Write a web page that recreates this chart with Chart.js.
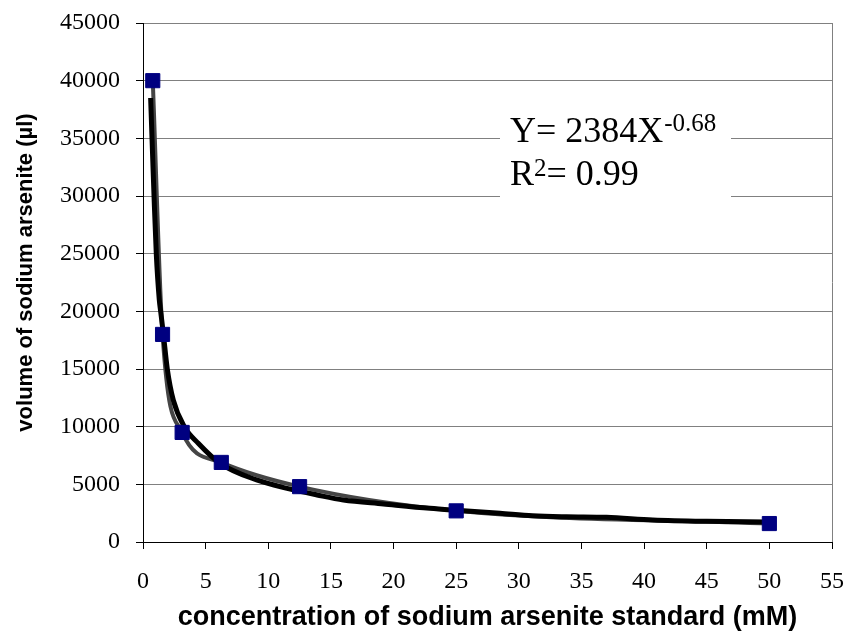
<!DOCTYPE html>
<html>
<head>
<meta charset="utf-8">
<script src="https://cdn.jsdelivr.net/npm/chart.js@4.4.1/dist/chart.umd.min.js"></script>
<style>
  html, body { margin: 0; padding: 0; background: #fff; }
  #wrap { width: 848px; height: 632px; position: relative; }
</style>
</head>
<body>
<div id="wrap"><canvas id="chart"></canvas></div>
<script>
// standards: concentration (mM) -> volume (µl)
const concX = [0.78, 1.56, 3.125, 6.25, 12.5, 25, 50];
const volumeY = [40000, 18000, 9500, 6900, 4800, 2700, 1600];

// power trend line
const trendX = [0.61, 0.72, 0.88, 1.06, 1.30, 1.41, 1.62, 1.94, 2.42, 3.3, 4.41, 6.15, 9.07, 11.5, 13.9, 16.0, 19.2, 22.9, 25, 28.5, 31.1, 33.8, 37.0, 40.7, 45.0, 49.8];
const trendY = [38500, 35000, 30000, 25000, 21000, 20000, 18100, 15000, 12300, 10000, 8560, 6820, 5380, 4650, 4080, 3640, 3300, 2920, 2750, 2490, 2280, 2190, 2140, 1910, 1790, 1730];

const xTicks = [0, 5, 10, 15, 20, 25, 30, 35, 40, 45, 50, 55];
const yTicks = [0, 5000, 10000, 15000, 20000, 25000, 30000, 35000, 40000, 45000];

const eqMain = 'Y= 2384X', eqExp = '-0.68';
const r2Main = 'R', r2Exp = '2', r2Rest = '= 0.99';
const yTitle = 'volume of sodium arsenite (µl)';

const SERIF = '"Liberation Serif", "Times New Roman", serif';
const SANS = '"Liberation Sans", Arial, sans-serif';

const pts = (xs, ys) => xs.map((x, i) => ({ x: x, y: ys[i] }));

// white box with the fit equation, drawn over the gridlines
const eqBox = {
  id: 'eqBox',
  beforeDatasetsDraw(chart) {
    const { ctx, chartArea: a } = chart;
    const left = a.left + 357, top = a.top + 80;
    ctx.save();
    ctx.fillStyle = '#fff';
    ctx.fillRect(left, top, 231, 104);
    ctx.fillStyle = '#000';
    ctx.textBaseline = 'alphabetic';
    let x = left + 10;
    ctx.font = '36px ' + SERIF;
    ctx.fillText(eqMain, x, a.top + 119);
    x += ctx.measureText(eqMain).width + 1;
    ctx.font = '25px ' + SERIF;
    ctx.fillText(eqExp, x, a.top + 108);

    x = left + 10;
    ctx.font = '36px ' + SERIF;
    ctx.fillText(r2Main, x, a.top + 162);
    x += ctx.measureText(r2Main).width;
    ctx.font = '25px ' + SERIF;
    ctx.fillText(r2Exp, x, a.top + 153);
    x += ctx.measureText(r2Exp).width;
    ctx.font = '36px ' + SERIF;
    ctx.fillText(r2Rest, x, a.top + 162);
    ctx.restore();
  }
};

// y axis title sits a little above the plot's middle in the original
const yTitlePlugin = {
  id: 'yTitle',
  afterDraw(chart) {
    const { ctx, chartArea: a } = chart;
    ctx.save();
    ctx.translate(26, (a.top + a.bottom) / 2 - 10);
    ctx.rotate(-Math.PI / 2);
    ctx.font = 'bold 22px ' + SANS;
    ctx.fillStyle = '#000';
    ctx.textAlign = 'center';
    ctx.textBaseline = 'middle';
    ctx.fillText(yTitle, 0, 0);
    ctx.restore();
  }
};

new Chart(document.getElementById('chart'), {
  type: 'scatter',
  data: {
    datasets: [
      { label: 'standards', data: pts(concX, volumeY), showLine: false, pointStyle: 'rect',
        pointRadius: 10, backgroundColor: '#000080', borderColor: '#000080', borderWidth: 1 },
      { label: 'power fit', data: pts(trendX, trendY), showLine: true, borderColor: '#000',
        borderWidth: 5, pointRadius: 0, cubicInterpolationMode: 'monotone' },
      { label: 'standards line', data: pts(concX, volumeY), showLine: true, borderColor: '#454545',
        borderWidth: 4, pointRadius: 0, cubicInterpolationMode: 'monotone' }
    ]
  },
  options: {
    responsive: true, maintainAspectRatio: false, animation: false,
    layout: { padding: { top: 23, right: 16, left: 0, bottom: 0 } },
    plugins: { legend: { display: false }, tooltip: { enabled: false } },
    scales: {
      x: {
        type: 'linear', min: 0, max: 55,
        afterBuildTicks: s => { s.ticks = xTicks.map(v => ({ value: v })); },
        afterFit: s => { s.height = 90; s.paddingRight = 10; },
        ticks: { color: '#000', padding: 18, maxRotation: 0, font: { family: SERIF, size: 24 } },
        grid: { color: c => (c.tick && c.tick.value === 55 ? '#808080' : 'rgba(0,0,0,0)'),
                tickColor: '#000', tickLength: 7 },
        border: { color: '#000', width: 1 },
        title: { display: true, text: 'concentration of sodium arsenite standard (mM)', color: '#000',
                 font: { family: SANS, size: 27, weight: 'bold' }, padding: { top: 0, bottom: -2 } }
      },
      y: {
        type: 'linear', min: 0, max: 45000,
        afterBuildTicks: s => { s.ticks = yTicks.map(v => ({ value: v })); },
        afterFit: s => { s.width = 143; s.paddingTop = 10; },
        ticks: { color: '#000', padding: 16, callback: v => String(v), font: { family: SERIF, size: 24 } },
        grid: { color: '#808080', tickColor: '#000', tickLength: 7 },
        border: { color: '#000', width: 1 }
      }
    }
  },
  plugins: [eqBox, yTitlePlugin]
});
</script>
</body>
</html>
